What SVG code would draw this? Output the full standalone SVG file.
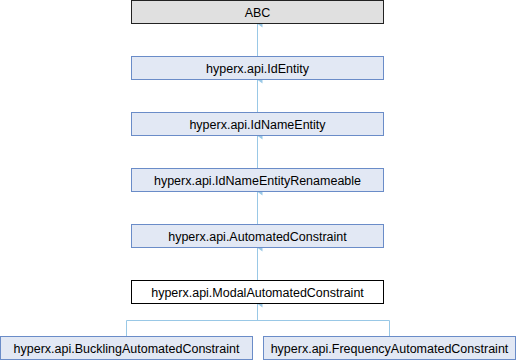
<svg xmlns="http://www.w3.org/2000/svg" width="516" height="360" viewBox="0 0 516 360">
<style>
.n rect{fill:#e2e8f4;stroke:#6a8cc8;stroke-width:1}
.n.root rect{fill:#e0e0e0;stroke:#222}
.n.cur rect{fill:#fff;stroke:#000}
text{font-family:"Liberation Sans",Arial,sans-serif;font-size:12.5px;fill:#000;text-anchor:middle}
.e{fill:none;stroke:#99c8e6;stroke-width:1}
</style>
<defs>
<marker id="ah" viewBox="0 0 7 6" refX="3.5" refY="0" markerWidth="7" markerHeight="6" orient="auto-start-reverse" markerUnits="userSpaceOnUse">
<path d="M0,5 L3.5,0 L7,5 Z" fill="#99c8e6"/>
</marker>
</defs>
<g id="connectors">
<path class="e" d="M257.5,24 V56.5" marker-start="url(#ah)"/>
<path class="e" d="M257.5,80 V112.5" marker-start="url(#ah)"/>
<path class="e" d="M257.5,136 V168.5" marker-start="url(#ah)"/>
<path class="e" d="M257.5,192 V224.5" marker-start="url(#ah)"/>
<path class="e" d="M257.5,248 V280.5" marker-start="url(#ah)"/>
<path class="e" d="M257.5,304 V320.5 M126.5,320.5 H389.5 M126.5,320.5 V336.5 M389.5,320.5 V336.5" marker-start="url(#ah)"/>
</g>
<g id="abc" class="n root"><rect x="131.5" y="0.5" width="252" height="23"/><text x="257.5" y="16.5">ABC</text></g>
<g id="identity" class="n"><rect x="131.5" y="56.5" width="252" height="23"/><text x="257.5" y="72.5">hyperx.api.IdEntity</text></g>
<g id="idnameentity" class="n"><rect x="131.5" y="112.5" width="252" height="23"/><text x="257.5" y="128.5">hyperx.api.IdNameEntity</text></g>
<g id="idnameentityrenameable" class="n"><rect x="131.5" y="168.5" width="252" height="23"/><text x="257.5" y="184.5">hyperx.api.IdNameEntityRenameable</text></g>
<g id="automatedconstraint" class="n"><rect x="131.5" y="224.5" width="252" height="23"/><text x="257.5" y="240.5">hyperx.api.AutomatedConstraint</text></g>
<g id="modalautomatedconstraint" class="n cur"><rect x="131.5" y="280.5" width="252" height="23"/><text x="257.5" y="296.5">hyperx.api.ModalAutomatedConstraint</text></g>
<g id="bucklingautomatedconstraint" class="n"><rect x="0.5" y="336.5" width="252" height="23"/><text x="126.5" y="352.5">hyperx.api.BucklingAutomatedConstraint</text></g>
<g id="frequencyautomatedconstraint" class="n"><rect x="263.5" y="336.5" width="252" height="23"/><text x="389.5" y="352.5">hyperx.api.FrequencyAutomatedConstraint</text></g>
</svg>
